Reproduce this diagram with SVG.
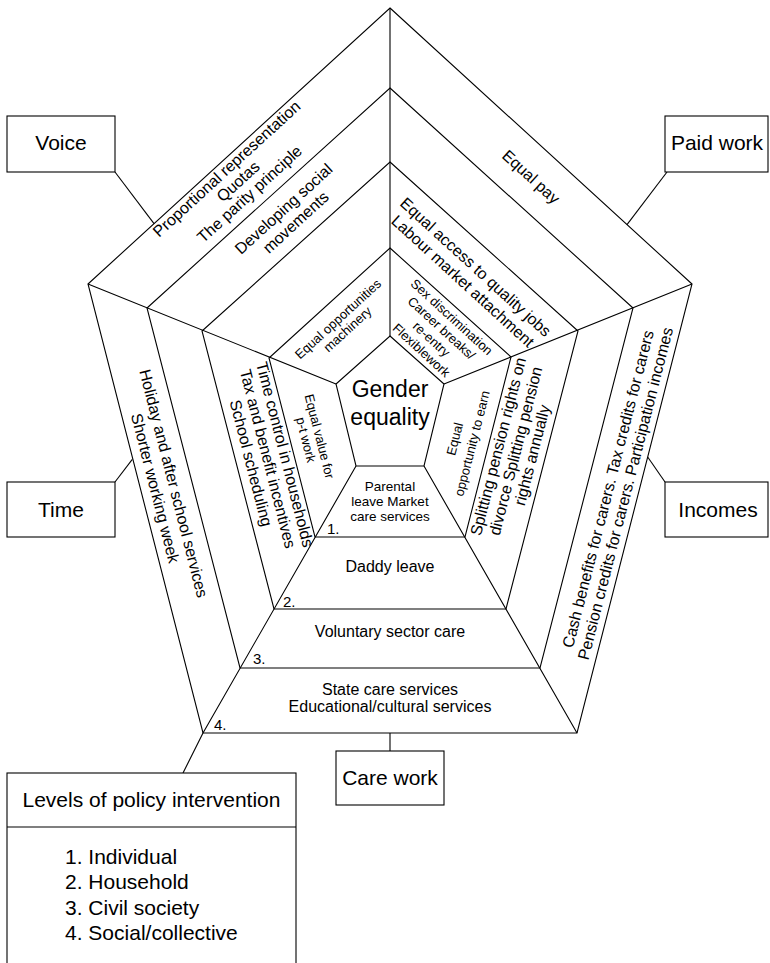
<svg xmlns="http://www.w3.org/2000/svg" width="770" height="963" viewBox="0 0 770 963">
<style>
.ln{fill:none;stroke:#000;stroke-width:1.1;stroke-linejoin:miter}
.bx{fill:#fff;stroke:#000;stroke-width:1.1}
text{font-family:"Liberation Sans",Arial,Helvetica,sans-serif;fill:#000}
.lab{font-size:21px;text-anchor:middle}
.t16{font-size:16px;text-anchor:middle}
.t13{font-size:13px;text-anchor:middle}
.t135{font-size:13.5px;text-anchor:middle}
.num{font-size:15px}
.big{font-size:23px;text-anchor:middle}
</style>
<rect width="770" height="963" fill="#fff"/>
<g id="web" class="ln">
 <polygon points="390,8 692,284 577,733 203,733 88,284"/>
 <polygon points="390,88 633,308 540,668 240,668 147,308"/>
 <polygon points="390,162 578,331 506,609 274,609 202,331"/>
 <polygon points="390,248 511,357 465,537 315,537 269,358"/>
 <path d="M390,336V8M444,384L692,284M424,466L577,733M356,466L203,733M336,384L88,284"/>
</g>
<g id="connectors" class="ln">
 <path d="M115,172L154,223.7"/>
 <path d="M667,172L627,224.6"/>
 <path d="M115,482L132.3,459.3"/>
 <path d="M665,482L647.7,457"/>
 <path d="M390,733V751"/>
 <path d="M183,773L203,733"/>
</g>
<g id="gender-equality">
 <polygon class="ln" points="390,336 444,384 424,466 356,466 336,384"/>
 <text class="big" x="390" y="397">Gender</text>
 <text class="big" x="390" y="425">equality</text>
</g>
<g id="voice-band">
 <g transform="translate(88,284) rotate(-42.42)">
  <text class="t16" x="180" y="14">Proportional representation</text>
  <text class="t16" x="180" y="31">Quotas</text>
  <text class="t16" x="180" y="48">The parity principle</text>
  <text class="t16" x="195" y="82">Developing social</text>
  <text class="t16" x="195" y="100">movements</text>
  <text class="t13" x="161" y="199">Equal opportunities</text>
  <text class="t13" x="161" y="213">machinery</text>
 </g>
</g>
<g id="paidwork-band">
 <g transform="translate(390,8) rotate(42.42)">
  <text class="t16" x="218" y="35">Equal pay</text>
  <text class="t16" x="238" y="139">Equal access to quality jobs</text>
  <text class="t16" x="238" y="158">Labour market attachment</text>
  <text class="t13" x="254" y="191">Sex discrimination</text>
  <text class="t13" x="254" y="206">Career breaks/</text>
  <text class="t13" x="254" y="221">re-entry</text>
  <text class="t13" x="254" y="236">Flexiblework</text>
 </g>
</g>
<g id="time-band">
 <g transform="translate(88,284) rotate(75.63)">
  <text class="t16" x="214.5" y="-28">Holiday and after school services</text>
  <text class="t16" x="214.5" y="-9">Shorter working week</text>
  <text class="t16" x="214" y="-143">Time control in households</text>
  <text class="t16" x="214" y="-125.5">Tax and benefit incentives</text>
  <text class="t16" x="214" y="-108">School scheduling</text>
  <text class="t13" x="205" y="-182">Equal value for</text>
  <text class="t13" x="205" y="-168">p-t work</text>
 </g>
</g>
<g id="incomes-band">
 <g transform="translate(577,733) rotate(-75.63)">
  <text class="t16" x="244" y="-25">Cash benefits for carers. Tax credits for carers</text>
  <text class="t16" x="244" y="-7">Pension credits for carers. Participation incomes</text>
  <text class="t16" x="258" y="-142">Splitting pension rights on</text>
  <text class="t16" x="258" y="-124">divorce Splitting pension</text>
  <text class="t16" x="258" y="-107">rights annually</text>
  <text class="t13" x="254.5" y="-187">Equal</text>
  <text class="t13" x="254.5" y="-169">opportunity to earn</text>
 </g>
</g>
<g id="carework-band">
 <text class="t135" x="390" y="491">Parental</text>
 <text class="t135" x="390" y="506">leave Market</text>
 <text class="t135" x="390" y="521">care services</text>
 <text class="num" x="327" y="534">1.</text>
 <text class="t16" x="390" y="572">Daddy leave</text>
 <text class="num" x="283" y="607">2.</text>
 <text class="t16" x="390" y="637">Voluntary sector care</text>
 <text class="num" x="253" y="664">3.</text>
 <text class="t16" x="390" y="695">State care services</text>
 <text class="t16" x="390" y="712">Educational/cultural services</text>
 <text class="num" x="214" y="730">4.</text>
</g>
<g id="voice">
 <rect class="bx" x="7" y="116" width="108" height="56"/>
 <text class="lab" x="61" y="150">Voice</text>
</g>
<g id="paid-work">
 <rect class="bx" x="665" y="116" width="103" height="56"/>
 <text class="lab" x="717" y="150">Paid work</text>
</g>
<g id="time">
 <rect class="bx" x="7" y="482" width="108" height="55"/>
 <text class="lab" x="61" y="517">Time</text>
</g>
<g id="incomes">
 <rect class="bx" x="665" y="482" width="103" height="55"/>
 <text class="lab" x="718" y="517">Incomes</text>
</g>
<g id="care-work">
 <rect class="bx" x="336" y="751" width="108" height="54"/>
 <text class="lab" x="390" y="785">Care work</text>
</g>
<g id="levels">
 <rect class="bx" x="7" y="773" width="289" height="200"/>
 <path class="ln" d="M7,827H296"/>
 <text class="lab" x="151.5" y="807">Levels of policy intervention</text>
 <text font-size="21" x="65" y="864">1. Individual</text>
 <text font-size="21" x="65" y="889">2. Household</text>
 <text font-size="21" x="65" y="915">3. Civil society</text>
 <text font-size="21" x="65" y="940">4. Social/collective</text>
</g>
</svg>
